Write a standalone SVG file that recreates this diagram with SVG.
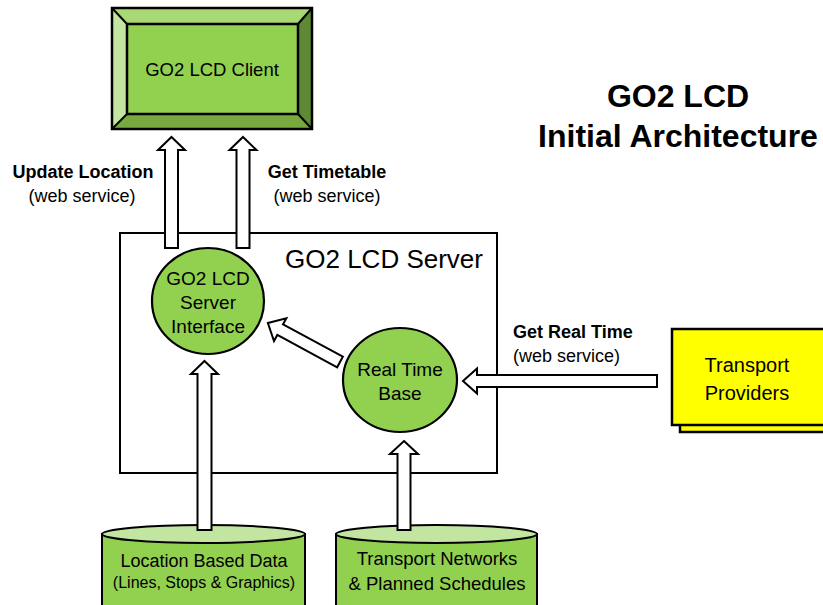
<svg xmlns="http://www.w3.org/2000/svg" width="823" height="605" viewBox="0 0 823 605">
<style>
text{font-family:"Liberation Sans",Arial,sans-serif;fill:#000}
.c{text-anchor:middle}
.b{font-weight:bold}
.arr{fill:#fff;stroke:#000;stroke-width:2;stroke-linejoin:miter}
.node{fill:#92d050;stroke:#000;stroke-width:2.2}
.cyltop{fill:#c3e5a2;stroke:#000;stroke-width:2}
</style>
<rect width="823" height="605" fill="#fff"/>

<g id="title">
<text class="c b" x="678" y="107" font-size="32">GO2 LCD</text>
<text class="c b" x="678" y="147" font-size="32">Initial Architecture</text>
</g>

<g id="server">
<rect x="120" y="233" width="377" height="240" fill="#fff" stroke="#000" stroke-width="2"/>
<text class="c" x="384" y="268" font-size="26">GO2 LCD Server</text>
</g>

<g id="client">
<polygon points="112,8 312,8 298,24 127,24" fill="#a9d975"/>
<polygon points="112,8 127,24 127,114 112,129" fill="#c3e5a2"/>
<polygon points="312,8 312,129 298,114 298,24" fill="#5e8a35"/>
<polygon points="112,129 127,114 298,114 312,129" fill="#77a93f"/>
<rect x="127" y="24" width="171" height="90" fill="#92d050" stroke="#000" stroke-width="2.5"/>
<rect x="112" y="8" width="200" height="121" fill="none" stroke="#000" stroke-width="2.5"/>
<line x1="112" y1="8" x2="127" y2="24" stroke="#000" stroke-width="2"/>
<line x1="312" y1="8" x2="298" y2="24" stroke="#000" stroke-width="2"/>
<line x1="112" y1="129" x2="127" y2="114" stroke="#000" stroke-width="2"/>
<line x1="312" y1="129" x2="298" y2="114" stroke="#000" stroke-width="2"/>
<text class="c" x="212" y="76" font-size="18.5">GO2 LCD Client</text>
</g>

<g id="interface">
<ellipse class="node" cx="208" cy="301" rx="56" ry="53"/>
<text class="c" x="208" y="285" font-size="19">GO2 LCD</text>
<text class="c" x="208" y="309" font-size="19">Server</text>
<text class="c" x="208" y="333" font-size="19">Interface</text>
</g>

<g id="realtime">
<ellipse class="node" cx="400" cy="380" rx="57" ry="52"/>
<text class="c" x="400" y="376" font-size="19">Real Time</text>
<text class="c" x="400" y="400" font-size="19">Base</text>
</g>

<g id="providers">
<rect x="680" y="337" width="170" height="95" fill="#ffff00" stroke="#000" stroke-width="2.5"/>
<rect x="672" y="329" width="170" height="96" fill="#ffff00" stroke="#000" stroke-width="2.5"/>
<text class="c" x="747" y="372" font-size="20">Transport</text>
<text class="c" x="747" y="400" font-size="20">Providers</text>
</g>

<g id="locdata">
<path d="M102,534 L102,612 L305,612 L305,534 Z" fill="#92d050" stroke="#000" stroke-width="2"/>
<ellipse class="cyltop" cx="203.5" cy="534" rx="101.5" ry="9"/>
<text class="c" x="204" y="567" font-size="18">Location Based Data</text>
<text class="c" x="204" y="588" font-size="16">(Lines, Stops &amp; Graphics)</text>
</g>

<g id="networks">
<path d="M336,534 L336,612 L537,612 L537,534 Z" fill="#92d050" stroke="#000" stroke-width="2"/>
<ellipse class="cyltop" cx="436.5" cy="534" rx="100.5" ry="9"/>
<text class="c" x="437" y="565" font-size="18.5">Transport Networks</text>
<text class="c" x="437" y="590" font-size="18.5">&amp; Planned Schedules</text>
</g>

<g id="connectors">
<polygon class="arr" points="171.5,137 185,150 178,150 178,248 165,248 165,150 158,150"/>
<polygon class="arr" points="243,137 256.5,150 249.5,150 249.5,248 236.5,248 236.5,150 229.5,150"/>
<polygon class="arr" points="204.5,361 218,374 211.5,374 211.5,530 197.5,530 197.5,374 191,374"/>
<polygon class="arr" points="404,441 418,454 410.5,454 410.5,530 397.5,530 397.5,454 390,454"/>
<polygon class="arr" points="463,381 477,368.5 477,375 657,375 657,387 477,387 477,393.5"/>
<polygon class="arr" transform="translate(340,362) rotate(208.4)" points="0,-6 68,-6 68,-13 82,0 68,13 68,6 0,6"/>
</g>

<g id="labels">
<text class="c b" x="83" y="178" font-size="18">Update Location</text>
<text class="c" x="82" y="202" font-size="18">(web service)</text>
<text class="c b" x="327" y="178" font-size="18">Get Timetable</text>
<text class="c" x="327" y="202" font-size="18">(web service)</text>
<text class="b" x="513" y="338" font-size="18">Get Real Time</text>
<text x="513" y="362" font-size="18">(web service)</text>
</g>
</svg>
